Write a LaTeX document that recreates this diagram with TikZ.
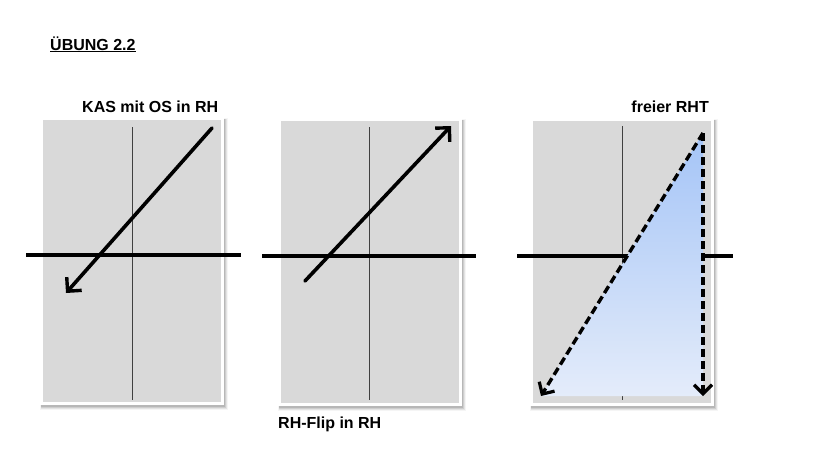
\documentclass[tikz,border=0pt]{standalone}
\usepackage{fontspec}
\setmainfont{Liberation Sans}
\usetikzlibrary{arrows.meta}
\begin{document}
\begin{tikzpicture}[x=1pt,y=-1pt,
  lbl/.style={font=\fontsize{16}{19}\selectfont\bfseries, inner sep=0pt},
  frame/.style={fill=white},
  field/.style={fill=gray!30},
  yaxis/.style={draw=black!75, line width=1pt},
  xaxis/.style={draw=black, line width=3.6pt},
  vec/.style={draw=black, line width=3.6pt, line cap=round,
    -{Straight Barb[length=10pt,width=20pt,line width=3.4pt]}},
  dvec/.style={draw=black, line width=3.4pt, dash pattern=on 8pt off 4pt,
    -{Straight Barb[length=9pt,width=18pt,line width=3.2pt]}}
]
\useasboundingbox (0,0) rectangle (820,456);
\fill[white] (0,0) rectangle (820,456);

% title
\node[lbl, anchor=base west] (title) at (50,50) {\underline{ÜBUNG 2.2}};

% shadows and panels
\foreach \px/\py in {40/117, 278/118, 530/118}{
  \foreach \k/\op in {4/0.04, 3/0.07, 2/0.09, 1/0.11}{
    \fill[black, opacity=\op] (\px+1.5-\k*0.3,\py+2.5-\k*0.3) rectangle (\px+184+\k,\py+288+\k+1);
  }
  \fill[frame] (\px,\py) rectangle (\px+184,\py+288);
  \fill[field] (\px+3,\py+3) rectangle (\px+181,\py+285);
}

% panel 1
\coordinate (a1t) at (132,127); \coordinate (a1b) at (132,400);
\coordinate (h1l) at (26,255); \coordinate (h1r) at (241,255);
\coordinate (v1s) at (212,128); \coordinate (v1e) at (66,293);
\draw[yaxis] (a1t) -- (a1b);
\draw[xaxis] (h1l) -- (h1r);
\draw[vec] (v1s) -- (v1e);
\node[lbl, anchor=base west] (l1) at (82,112) {KAS mit OS in RH};

% panel 2
\coordinate (a2t) at (369,127); \coordinate (a2b) at (369,400);
\coordinate (h2l) at (262,256); \coordinate (h2r) at (476,256);
\coordinate (v2s) at (305,281); \coordinate (v2e) at (451,126);
\draw[yaxis] (a2t) -- (a2b);
\draw[xaxis] (h2l) -- (h2r);
\draw[vec] (v2s) -- (v2e);
\node[lbl, anchor=base west] (l2) at (278,428) {RH-Flip in RH};

% panel 3
\coordinate (a3t) at (622,126); \coordinate (a3b) at (622,400);
\coordinate (h3l) at (517,256); \coordinate (h3r) at (733,256);
\coordinate (tA) at (703,133); \coordinate (tL) at (541,396); \coordinate (tR) at (703,396);
\draw[yaxis] (a3t) -- (a3b);
\draw[xaxis] (h3l) -- (h3r);
\shade[top color={rgb,255:red,164;green,196;blue,247}, bottom color={rgb,255:red,228;green,236;blue,250}]
  (tA) -- (tL) -- (tR) -- cycle;
\draw[dvec] (tA) -- (tL);
\draw[dvec] (tA) -- (tR);
\node[lbl, anchor=base east] (l3) at (709,112) {freier RHT};
\end{tikzpicture}
\end{document}
